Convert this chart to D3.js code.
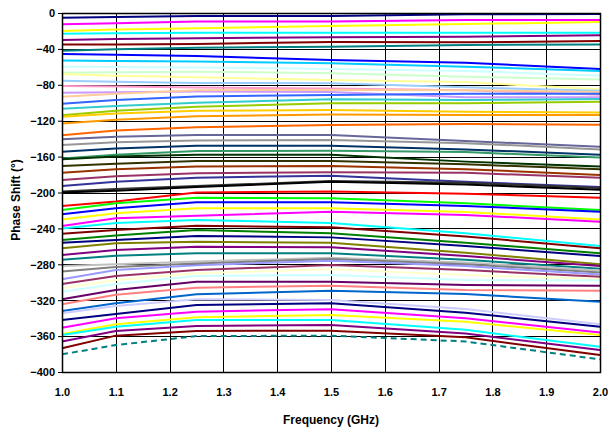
<!DOCTYPE html>
<html>
<head>
<meta charset="utf-8">
<script src="https://cdn.jsdelivr.net/npm/d3@7"></script>
<style>
  body { margin: 0; background: #fff; }
  text { font-family: "Liberation Sans", Arial, sans-serif; font-weight: bold; fill: #000; }
</style>
</head>
<body>
<svg id="chart" width="610" height="432"></svg>
<script>
// frequency points (GHz) the traces are read at
var freqs = [1.0, 1.1, 1.25, 1.5, 1.75, 2.0];

var xTicks = [1.0, 1.1, 1.2, 1.3, 1.4, 1.5, 1.6, 1.7, 1.8, 1.9, 2.0];
var yTicks = [0, -40, -80, -120, -160, -200, -240, -280, -320, -360, -400];

// one colour per phase state (excel palette order)
var colors = [
  "#000080", "#FF00FF", "#FFFF00", "#00FFFF", "#800080", "#800000", "#008080", "#0000FF",
  "#00CCFF", "#CCFFFF", "#CCFFCC", "#FFFF99", "#99CCFF", "#FF99CC", "#CC99FF", "#FFCC99",
  "#3366FF", "#33CCCC", "#99CC00", "#FFCC00", "#FF9900", "#FF6600", "#666699", "#969696",
  "#003366", "#339966", "#003300", "#333300", "#993300", "#993366", "#333399", "#333333",
  "#000000",
  "#FF0000", "#00FF00", "#0000FF", "#FFFF00", "#FF00FF", "#00FFFF",
  "#800000", "#008000", "#000080", "#808000", "#800080", "#008080", "#C0C0C0", "#808080",
  "#9999FF", "#993366", "#FFFFCC", "#CCFFFF", "#660066", "#FF8080", "#0066CC", "#CCCCFF",
  "#000080", "#FF00FF", "#FFFF00", "#00FFFF", "#800080", "#800000", "#008080"
];

// phase shift (deg) of each state at freqs
var phase = [
  [-5.2, -4.5, -3.3, -3.3, -1.5, -1.1],
  [-12.6, -11.5, -9.6, -9.6, -7.8, -7.8],
  [-20, -18.5, -17, -14.5, -12.3, -10],
  [-23, -22.5, -22, -22, -22, -22],
  [-30, -29, -28, -27, -26.4, -24.9],
  [-35, -35, -34.5, -32.3, -32.7, -31.2],
  [-42, -40.5, -38.6, -37.5, -35.7, -35],
  [-45.7, -46.5, -48, -52.4, -55.3, -62.4],
  [-53, -53.5, -54, -56, -59.8, -64.6],
  [-60, -60.3, -60.6, -62.4, -64.6, -70],
  [-66.5, -66, -65.4, -67, -71, -74],
  [-68, -70, -71.7, -74.6, -77, -85],
  [-75.4, -76.5, -78, -78.3, -82.8, -86.6],
  [-81.3, -82, -83, -84, -86, -91],
  [-88.8, -88.2, -87.6, -88, -94, -94],
  [-93.2, -90, -86, -85.8, -86, -88],
  [-101, -97, -93, -91.4, -90, -90],
  [-106.6, -103.5, -100, -96, -97, -95.8],
  [-114, -109, -104.4, -100.6, -100.6, -98.8],
  [-115.5, -112, -109, -108, -110, -111],
  [-123, -119, -115, -113, -113.6, -113.6],
  [-136.3, -131, -127.4, -124.8, -123.7, -124.4],
  [-140.7, -138, -136, -136, -142.6, -149],
  [-147, -144, -142, -141.5, -145, -152],
  [-154.5, -151, -148, -147.8, -152, -158],
  [-162, -158, -153.8, -153.4, -155, -161],
  [-163, -160, -158, -158, -165.6, -171],
  [-170.5, -168, -165, -165, -168.6, -174],
  [-178, -174, -171, -170.5, -174, -180.5],
  [-186, -182, -178.6, -177.5, -178, -183.5],
  [-192.8, -188, -183.5, -181.3, -188, -194],
  [-199, -196, -192.8, -187.2, -189, -195],
  [-200, -198, -194, -188, -191, -197],
  [-215, -210, -200, -199, -201.5, -205.8],
  [-219.5, -212, -205.8, -206.5, -212, -219.5],
  [-224.3, -217.6, -211, -211, -215, -221.4],
  [-230, -223, -217.6, -217.6, -221.7, -230],
  [-237.3, -228.8, -226, -221.4, -225, -232.5],
  [-240, -234, -230.6, -234, -245.5, -259.6],
  [-246, -241.8, -237, -238.8, -249, -262],
  [-253, -248, -241.8, -245.5, -256, -267.7],
  [-256, -253, -248.5, -250, -259.6, -270.8],
  [-262, -256.6, -254.8, -256, -267, -280],
  [-269.6, -264, -260.4, -261, -270.8, -282],
  [-275, -270.4, -267.7, -267.7, -275, -285],
  [-282, -280, -277, -272.6, -278, -287],
  [-288, -283, -279, -274, -280, -289],
  [-296.7, -286.4, -281, -276, -282, -291.5],
  [-302, -293, -286.4, -280.8, -286.4, -294],
  [-306.7, -297.5, -290, -285.6, -292, -296.5],
  [-310.5, -302, -293, -292, -297.5, -298],
  [-319, -308.6, -299.4, -299.4, -303, -304],
  [-324.6, -314, -306, -304, -308.6, -309.4],
  [-332, -323.5, -313.4, -309.4, -313, -321.7],
  [-334.6, -326.5, -319, -319.8, -329.8, -346.8],
  [-342, -335.4, -325.3, -323.5, -334, -349.5],
  [-350.6, -340, -332.8, -330, -340, -356],
  [-357.7, -346.8, -339, -336.5, -344, -358.8],
  [-358.8, -349.5, -342, -342, -353, -371.8],
  [-366, -354.3, -348.7, -347.6, -357, -375.5],
  [-373.6, -359.5, -354.3, -354, -361.4, -381],
  [-380.3, -370, -360, -359.5, -366, -385.9]
];

var svg = d3.select("#chart");

var margin = { left: 62, top: 13, right: 10, bottom: 60 };
var width = 600 - margin.left;
var height = 372 - margin.top;

var x = d3.scaleLinear().domain([1.0, 2.0]).range([0, width]);
var y = d3.scaleLinear().domain([-400, 0]).range([height, 0]);

var g = svg.append("g")
  .attr("transform", "translate(" + margin.left + "," + margin.top + ")");

// gridlines
g.append("g")
  .selectAll("line.hgrid")
  .data(yTicks)
  .enter()
  .append("line")
  .attr("x1", 0)
  .attr("x2", width)
  .attr("y1", function(d) { return Math.round(y(d)) + 0.5; })
  .attr("y2", function(d) { return Math.round(y(d)) + 0.5; })
  .attr("stroke", "#000")
  .attr("stroke-width", 1);

g.append("g")
  .selectAll("line.vgrid")
  .data(xTicks)
  .enter()
  .append("line")
  .attr("y1", 0)
  .attr("y2", height)
  .attr("x1", function(d) { return Math.round(x(d)) + 0.5; })
  .attr("x2", function(d) { return Math.round(x(d)) + 0.5; })
  .attr("stroke", "#000")
  .attr("stroke-width", 1);

// traces
var line = d3.line()
  .x(function(d, i) { return x(freqs[i]); })
  .y(function(d) { return y(d); });

g.append("g")
  .selectAll("path")
  .data(phase)
  .enter()
  .append("path")
  .attr("d", function(d) { return line(d); })
  .attr("fill", "none")
  .attr("stroke", function(d, i) { return colors[i]; })
  .attr("stroke-width", 2)
  .attr("stroke-dasharray", function(d, i) { return i == phase.length - 1 ? "6,4" : null; });

// plot border
g.append("rect")
  .attr("x", 0.5)
  .attr("y", 0.5)
  .attr("width", width)
  .attr("height", height)
  .attr("fill", "none")
  .attr("stroke", "#000")
  .attr("stroke-width", 1.5);

// axes
var yAxis = d3.axisLeft(y).tickValues(yTicks).tickSize(4).tickFormat(d3.format("d"));
var xAxis = d3.axisBottom(x).tickValues(xTicks).tickSize(0).tickPadding(16).tickFormat(d3.format(".1f"));

var ya = g.append("g").call(yAxis);
ya.select(".domain").remove();
ya.selectAll("line").attr("stroke", "#000");
ya.selectAll("text")
  .attr("font-size", 11)
  .attr("font-family", "Liberation Sans, Arial, sans-serif")
  .attr("font-weight", "bold")
  .attr("x", -7)
  .attr("dy", "0.35em");

var xa = g.append("g").attr("transform", "translate(0," + height + ")").call(xAxis);
xa.select(".domain").remove();
xa.selectAll("text")
  .attr("font-size", 11)
  .attr("font-family", "Liberation Sans, Arial, sans-serif")
  .attr("font-weight", "bold");

// titles
svg.append("text")
  .attr("x", margin.left + width / 2)
  .attr("y", 424)
  .attr("text-anchor", "middle")
  .attr("font-size", 12)
  .text("Frequency (GHz)");

svg.append("text")
  .attr("transform", "translate(20,200) rotate(-90)")
  .attr("text-anchor", "middle")
  .attr("font-size", 12)
  .text("Phase Shift (°)");
</script>
</body>
</html>
